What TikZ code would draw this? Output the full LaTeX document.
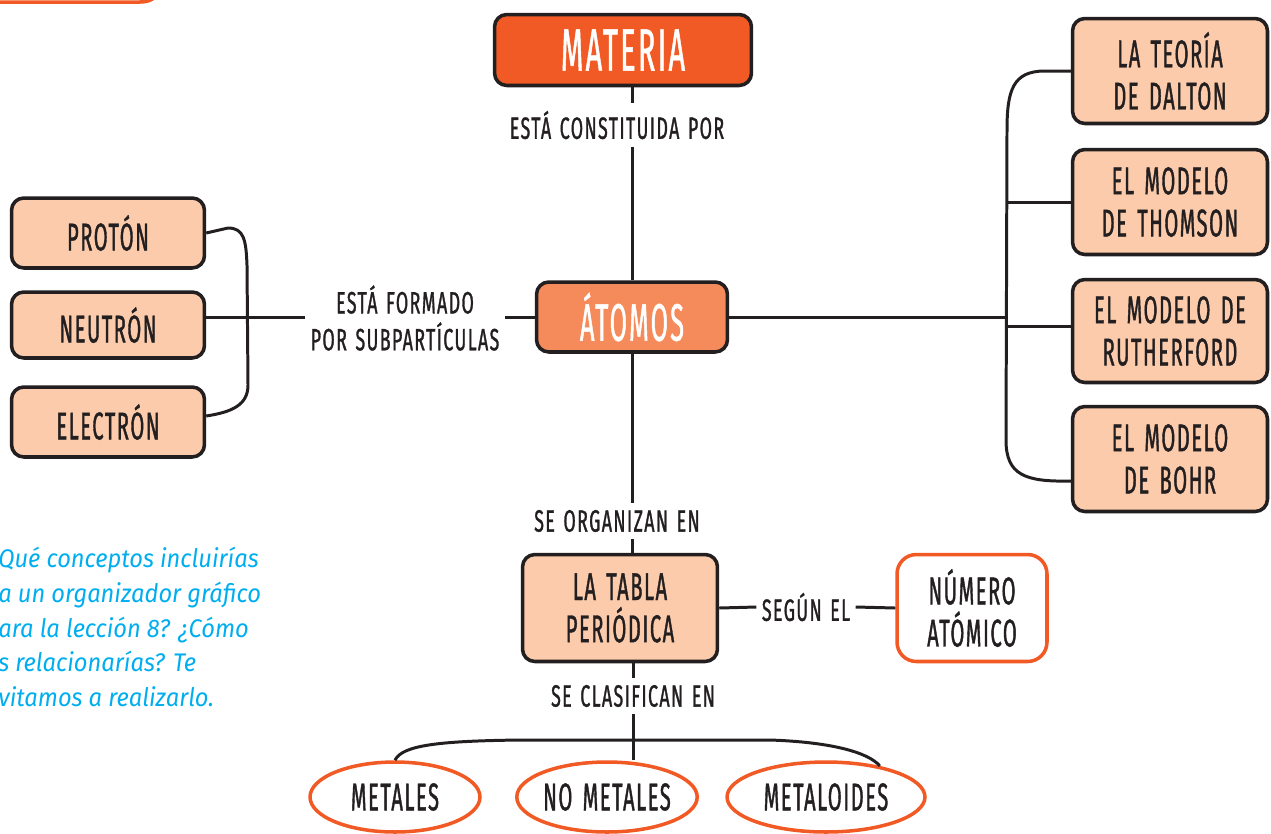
\documentclass[tikz,border=0pt]{standalone}
\usepackage{fontspec}
\setmainfont{Fira Sans}[FakeStretch=0.52, LetterSpace=4, FakeBold=1, WordSpace=1.5]
\newfontfamily\labelfont{Fira Sans}[FakeStretch=0.58, LetterSpace=4.5, FakeBold=1, WordSpace=1.4]
\newfontfamily\bigfont{Fira Sans}[FakeStretch=0.48, LetterSpace=4, FakeBold=0.8]
\newfontfamily\bluefont{Fira Sans}[FakeStretch=0.93]
\usetikzlibrary{shapes.geometric}
\definecolor{ink}{HTML}{231F20}
\definecolor{peach}{HTML}{FBCBAB}
\definecolor{hotorange}{HTML}{F15A24}
\definecolor{midorange}{HTML}{F58B5A}
\definecolor{skyblue}{HTML}{00AEEF}
\tikzset{
  box/.style={draw=ink, line width=2pt, rounded corners=7pt, fill=peach, text=ink,
    font=\fontsize{22}{24}\selectfont, align=center, inner sep=0pt},
  bigbox/.style={box, text=white, font=\bigfont\fontsize{34}{36}\selectfont},
  outbox/.style={box, draw=hotorange, fill=white, rounded corners=11pt},
  oval/.style={ellipse, draw=hotorange, line width=2pt, fill=white, text=ink,
    font=\fontsize{22}{24}\selectfont, inner sep=0pt, minimum height=1.4cm},
  lbl/.style={text=ink, font=\labelfont\fontsize{17.5}{21}\selectfont, align=center,
    inner xsep=3pt, inner ysep=4pt},
  conn/.style={draw=ink, line width=1.7pt},
  blue/.style={text=skyblue, font=\bluefont\itshape\fontsize{14.5}{17}\selectfont, anchor=base west, inner sep=0pt}
}
\begin{document}
\begin{tikzpicture}[x=0.02cm, y=-0.02cm]
\useasboundingbox (0,0) rectangle (1271,833);

% top-left fragment of an orange box
\draw[hotorange, line width=2pt] (-5,2) -- (140,2) .. controls (150,2) and (156,-2) .. (158,-8);

% main nodes
\node[bigbox, fill=hotorange, minimum width=5.14cm, minimum height=1.42cm] (materia) at (623,50) {MATERIA};
\node[bigbox, fill=midorange, minimum width=3.82cm, minimum height=1.4cm, font=\bigfont\fontsize{30}{32}\selectfont] (atomos) at (632,317) {ÁTOMOS};

\node[lbl] (constituida) at (617,125) {ESTÁ CONSTITUIDA POR};
\node[lbl] (formado) at (405,318) {ESTÁ FORMADO\\POR SUBPARTÍCULAS};
\node[lbl] (organizan) at (617,521) {SE ORGANIZAN EN};
\node[lbl] (segun) at (806,607) {SEGÚN EL};
\node[lbl] (clasifican) at (633,696) {SE CLASIFICAN EN};

% left boxes
\node[box, minimum width=3.86cm, minimum height=1.4cm] (proton) at (108,233) {PROTÓN};
\node[box, minimum width=3.86cm, minimum height=1.32cm] (neutron) at (108,325) {NEUTRÓN};
\node[box, minimum width=3.86cm, minimum height=1.4cm] (electron) at (108,422) {ELECTRÓN};

% right boxes
\node[box, minimum width=3.9cm, minimum height=2.1cm] (dalton) at (1170,71) {LA TEORÍA\\DE DALTON};
\node[box, minimum width=3.9cm, minimum height=2.1cm] (thomson) at (1170,202) {EL MODELO\\DE THOMSON};
\node[box, minimum width=3.9cm, minimum height=2.06cm] (rutherford) at (1170,331) {EL MODELO DE\\RUTHERFORD};
\node[box, minimum width=3.9cm, minimum height=2.1cm] (bohr) at (1170,459) {EL MODELO\\DE BOHR};

% bottom
\node[box, minimum width=3.9cm, minimum height=2.14cm] (tabla) at (620,608) {LA TABLA\\PERIÓDICA};
\node[outbox, minimum width=3.0cm, minimum height=2.14cm] (numero) at (972,608) {NÚMERO\\ATÓMICO};

\node[oval, minimum width=3.4cm] (metales) at (395,797) {METALES};
\node[oval, minimum width=3.54cm] (nometales) at (607,797) {NO METALES};
\node[oval, minimum width=3.96cm] (metaloides) at (826,797) {METALOIDES};

% blue question text (cut at left edge)
\node[blue] (q1) at (-2,567) {Qué conceptos incluirías};
\node[blue] (q2) at (-2,602) {a un organizador gráfico};
\node[blue] (q3) at (-2,637) {ara la lección 8? ¿Cómo};
\node[blue] (q4) at (-2,671) {s relacionarías? Te};
\node[blue] (q5) at (-2,706) {vitamos a realizarlo.};

% connectors
\draw[conn] (materia.south -| atomos.north) -- (constituida.north -| atomos.north);
\draw[conn] (constituida.south -| atomos.north) -- (atomos.north);
\draw[conn] (atomos.west) -- (formado.east |- atomos.west);
\draw[conn] (formado.west |- atomos.west) -- (neutron.east |- atomos.west);
\coordinate (lb1) at (247,265);
\coordinate (lb2) at (248,385);
\draw[conn] (proton.east) -- (228,228) .. controls (244,228) and (246,240) .. (lb1) -- (lb2)
  .. controls (248,405) and (232,412) .. ([yshift=0.12cm]electron.east);

\coordinate (rb1) at (1007,130);
\coordinate (rb2) at (1006,440);
\draw[conn] (dalton.west) -- (1045,71) .. controls (1013,71) and (1007,90) .. (rb1) -- (rb2)
  .. controls (1006,475) and (1025,482) .. ([yshift=-0.44cm]bohr.west);
\draw[conn] (1007,202) -- (thomson.west |- 0,202);
\draw[conn] (1005,326) -- (rutherford.west |- 0,326);
\draw[conn] (atomos.east) -- (1006,317);

\draw[conn] (atomos.south) -- (organizan.north -| atomos.south);
\draw[conn] (organizan.south -| atomos.south) -- (tabla.north -| atomos.south);
\draw[conn] (tabla.east) -- (segun.west);
\draw[conn] (segun.east) -- (numero.west);
\draw[conn] (tabla.south -| clasifican.north) -- (clasifican.north);
\draw[conn] (clasifican.south) -- (clasifican.south |- nometales.north);
\draw[conn] (metales.north) .. controls (402,745) and (440,741) .. (520,740) -- (770,740)
  .. controls (830,742) and (868,752) .. (metaloides.30);
\end{tikzpicture}
\end{document}
